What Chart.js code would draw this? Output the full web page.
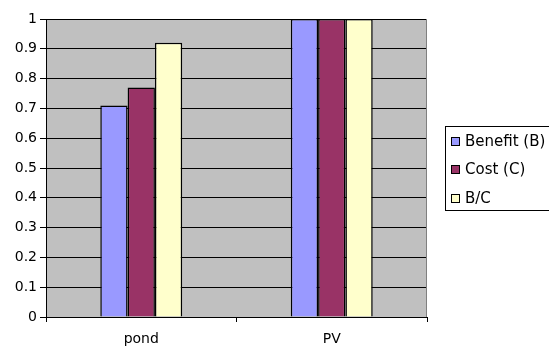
<!DOCTYPE html>
<html>
<head>
<meta charset="utf-8">
<script src="https://cdn.jsdelivr.net/npm/chart.js@4.4.0/dist/chart.umd.min.js"></script>
<style>
  html, body { margin: 0; padding: 0; background: #fff; }
  #wrap { width: 549px; height: 347px; position: relative; }
</style>
</head>
<body>
<div id="wrap"><canvas id="grafico"></canvas></div>
<script>
// datos del grafico
var categorias = ['pond', 'PV'];
var beneficio = [0.71, 1];
var costo = [0.77, 1];
var beneficioCosto = [0.92, 1];
var etiquetasY = ['0', '0.1', '0.2', '0.3', '0.4', '0.5', '0.6', '0.7', '0.8', '0.9', '1'];

var fuente = 'DejaVu Sans';

// fondo gris del area de trazado (estilo Excel)
var fondoArea = {
  id: 'fondoArea',
  beforeDraw: function(chart) {
    var a = chart.chartArea;
    var ctx = chart.ctx;
    ctx.save();
    ctx.fillStyle = '#c0c0c0';
    ctx.fillRect(a.left, a.top, a.right - a.left, a.bottom - a.top);
    ctx.restore();
  },
  afterDatasetsDraw: function(chart) {
    var a = chart.chartArea;
    var ctx = chart.ctx;
    ctx.save();
    ctx.strokeStyle = '#808080';
    ctx.lineWidth = 1;
    ctx.beginPath();
    ctx.moveTo(a.right - 0.5, a.top);
    ctx.lineTo(a.right - 0.5, a.bottom);
    ctx.stroke();
    ctx.restore();
  }
};

// leyenda con recuadro, dibujada a mano
var leyendaCaja = {
  id: 'leyendaCaja',
  afterDraw: function(chart) {
    var ctx = chart.ctx;
    var sets = chart.data.datasets;
    ctx.save();
    ctx.strokeStyle = '#000';
    ctx.lineWidth = 1;
    ctx.strokeRect(445.5, 126.5, 120, 84);
    ctx.font = '15px "' + fuente + '"';
    ctx.textBaseline = 'middle';
    ctx.fillStyle = '#000';
    var ys = [141, 169, 198];
    for (var i = 0; i < sets.length; i++) {
      ctx.fillStyle = sets[i].backgroundColor;
      ctx.fillRect(451, ys[i] - 4, 9, 9);
      ctx.strokeStyle = '#000';
      ctx.strokeRect(451.5, ys[i] - 3.5, 8, 8);
      ctx.fillStyle = '#000';
      ctx.fillText(sets[i].label, 465, ys[i] + 1);
    }
    ctx.restore();
  }
};

var ctx = document.getElementById('grafico').getContext('2d');
var grafico = new Chart(ctx, {
  type: 'bar',
  data: {
    labels: categorias,
    datasets: [
      { label: 'Benefit (B)', data: beneficio, backgroundColor: '#9999ff', borderColor: '#000', borderWidth: 1.5 },
      { label: 'Cost (C)', data: costo, backgroundColor: '#993366', borderColor: '#000', borderWidth: 1.5 },
      { label: 'B/C', data: beneficioCosto, backgroundColor: '#ffffcc', borderColor: '#000', borderWidth: 1.5 }
    ]
  },
  options: {
    responsive: true,
    maintainAspectRatio: false,
    animation: false,
    layout: { padding: { top: 19, right: 122, left: 0, bottom: 0 } },
    plugins: {
      legend: { display: false },
      tooltip: { enabled: false }
    },
    datasets: {
      bar: { barPercentage: 1, categoryPercentage: 0.43 }
    },
    scales: {
      x: {
        grid: { offset: true, drawOnChartArea: false, color: '#000', tickLength: 5 },
        border: { color: '#000', width: 1 },
        ticks: { color: '#000', font: { family: fuente, size: 14 }, padding: 9 },
        afterFit: function(scale) { scale.height = 30; }
      },
      y: {
        min: 0,
        max: 1,
        grid: { color: '#000', lineWidth: 1, tickLength: 6, tickColor: '#000' },
        border: { color: '#000', width: 1 },
        ticks: {
          stepSize: 0.1,
          color: '#000',
          padding: 3,
          font: { family: fuente, size: 14 },
          callback: function(v, i) { return etiquetasY[i]; }
        },
        afterFit: function(scale) { scale.width = 46; }
      }
    }
  },
  plugins: [fondoArea, leyendaCaja]
});
</script>
</body>
</html>
